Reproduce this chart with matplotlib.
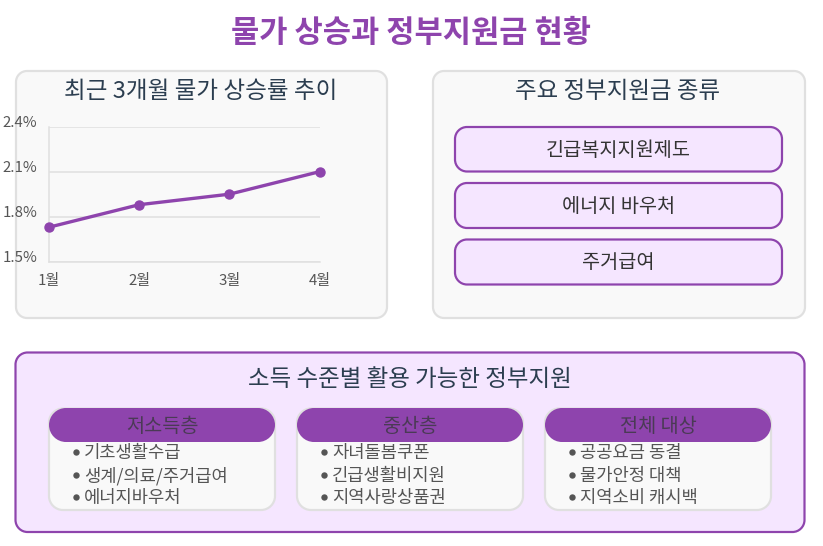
import matplotlib
matplotlib.use("Agg")
import matplotlib.pyplot as plt
from matplotlib.patches import PathPatch
from matplotlib.path import Path
from matplotlib.transforms import ScaledTranslation

plt.rcParams['font.family'] = ['Noto Sans CJK KR', 'DejaVu Sans']

PURPLE = '#8e44ad'
LILAC = '#f5e6ff'
PANEL = '#f9f9f9'
BORDER = '#e0e0e0'
TEXT = '#2c3e50'
GREY = '#555555'

title = '물가 상승과 정부지원금 현황'
chart_title = '최근 3개월 물가 상승률 추이'
months = ['1월', '2월', '3월', '4월']
rates = [1.73, 1.88, 1.95, 2.10]
y_ticks = [1.5, 1.8, 2.1, 2.4]
support_title = '주요 정부지원금 종류'
support_items = ['긴급복지지원제도', '에너지 바우처', '주거급여']
income_title = '소득 수준별 활용 가능한 정부지원'
low_name, low_items = '저소득층', ['기초생활수급', '생계/의료/주거급여', '에너지바우처']
mid_name, mid_items = '중산층', ['자녀돌봄쿠폰', '긴급생활비지원', '지역사랑상품권']
all_name, all_items = '전체 대상', ['공공요금 동결', '물가안정 대책', '지역소비 캐시백']

W, H = 823, 546
fig = plt.figure(figsize=(W / 100, H / 100), dpi=100, facecolor='white')
bg = fig.add_axes([0, 0, 1, 1])
bg.set_xlim(0, W)
bg.set_ylim(H, 0)
bg.axis('off')


def box(x0, y0, x1, y1, r, fc, ec, lw=2.0, z=1):
    k = 0.5523 * r
    verts = [
        (x0 + r, y0), (x1 - r, y0),
        (x1 - r + k, y0), (x1, y0 + r - k), (x1, y0 + r),
        (x1, y1 - r),
        (x1, y1 - r + k), (x1 - r + k, y1), (x1 - r, y1),
        (x0 + r, y1),
        (x0 + r - k, y1), (x0, y1 - r + k), (x0, y1 - r),
        (x0, y0 + r),
        (x0, y0 + r - k), (x0 + r - k, y0), (x0 + r, y0),
        (x0 + r, y0),
    ]
    C = Path.CURVE4
    L = Path.LINETO
    codes = [Path.MOVETO, L, C, C, C, L, C, C, C, L, C, C, C, L, C, C, C, Path.CLOSEPOLY]
    bg.add_patch(PathPatch(Path(verts, codes), fc=fc, ec=ec, lw=lw * 0.72, zorder=z))


def label(x, y, s, size, color=TEXT, ha='center', **kw):
    bg.text(x, y, s, fontsize=size * 0.72, color=color, ha=ha, va='center', zorder=6, **kw)


label(411, 33, title, 30.7, PURPLE, fontweight='bold')

# upper panels
box(16, 71, 387, 318, 11, PANEL, BORDER, 2.2)
box(433, 71, 805, 318, 11, PANEL, BORDER, 2.2)
label(201, 92, chart_title, 23.6)
label(618, 92, support_title, 23.5)

# line chart
ax_l, ax_t, ax_r, ax_b = 49, 126.7, 319.5, 261.7
ax = fig.add_axes([ax_l / W, 1 - ax_b / H, (ax_r - ax_l) / W, (ax_b - ax_t) / H], zorder=3)
ax.patch.set_alpha(0)
xs = list(range(len(months)))
ax.set_xlim(0, len(months) - 1)
ax.set_ylim(y_ticks[0], y_ticks[-1])
ax.set_xticks(xs, months)
ax.set_yticks(y_ticks, [f'{v:.1f}%' for v in y_ticks])
ax.tick_params(length=0, labelsize=10.8, labelcolor=GREY)
ax.tick_params(axis='x', pad=9)
ax.tick_params(axis='y', pad=8.5)
shift = ScaledTranslation(0, -3 / 72 * 0.72, fig.dpi_scale_trans)
for lab in ax.get_yticklabels():
    lab.set_verticalalignment('bottom')
    lab.set_transform(lab.get_transform() + shift)
ax.grid(axis='y', color=BORDER, lw=1.1)
ax.set_axisbelow(True)
for s in ['top', 'right']:
    ax.spines[s].set_visible(False)
for s in ['left', 'bottom']:
    ax.spines[s].set_color(BORDER)
    ax.spines[s].set_linewidth(1.1)
ax.plot(xs, rates, color=PURPLE, lw=2.4, marker='o', ms=6.5, clip_on=False, zorder=5)

# support buttons
for item, (y0, y1) in zip(support_items, [(127, 171.5), (183, 228), (239.5, 284.5)]):
    box(455, y0, 782, y1, 12, LILAC, PURPLE, 2.2, z=2)
    label(618.5, (y0 + y1) / 2 + 1, item, 19.7, '#333333')

# income panel
box(15.5, 352.5, 804.5, 532, 12, LILAC, PURPLE, 2.2)
label(410, 380, income_title, 23.5)

for x0, name, items in [(49, low_name, low_items), (297, mid_name, mid_items), (545, all_name, all_items)]:
    x1 = x0 + 226
    box(x0, 408.5, x1, 510, 14, PANEL, BORDER, 2.2, z=2)
    box(x0, 408, x1, 442, 17, PURPLE, 'none', 0, z=3)
    label((x0 + x1) / 2, 426, name, 19.7, '#4a3a55')
    for y, it in zip([452, 475, 497], items):
        bg.plot([x0 + 27], [y], 'o', ms=4.6, color=GREY, mew=0, zorder=5)
        label(x0 + 35, y + 1.2, it, 17.7, GREY, ha='left')

fig.savefig('out.png', dpi=100, facecolor='white')
